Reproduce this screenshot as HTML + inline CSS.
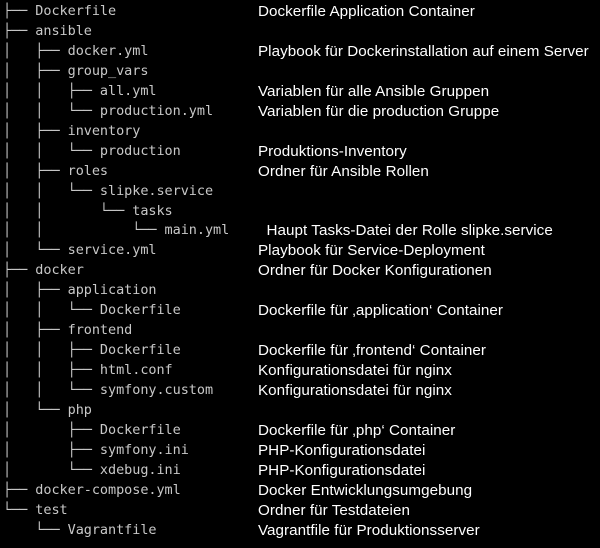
<!DOCTYPE html>
<html><head><meta charset="utf-8"><style>
html,body{margin:0;padding:0;background:#000;width:600px;height:548px;overflow:hidden}
.l{position:absolute;left:3px;top:2px;font-family:"DejaVu Sans Mono","Liberation Mono",monospace;font-size:13.5px;line-height:19.95px;color:#c8c8c8;white-space:pre;margin:0;letter-spacing:-0.05px}
.r{position:absolute;left:258px;top:2px;font-family:"Liberation Sans",sans-serif;font-size:15.2px;line-height:19.95px;color:#fff;white-space:pre;margin:0;letter-spacing:0.05px}
</style></head><body>
<pre class="l">├── Dockerfile
├── ansible
│   ├── docker.yml
│   ├── group_vars
│   │   ├── all.yml
│   │   └── production.yml
│   ├── inventory
│   │   └── production
│   ├── roles
│   │   └── slipke.service
│   │       └── tasks
│   │           └── main.yml
│   └── service.yml
├── docker
│   ├── application
│   │   └── Dockerfile
│   ├── frontend
│   │   ├── Dockerfile
│   │   ├── html.conf
│   │   └── symfony.custom
│   └── php
│       ├── Dockerfile
│       ├── symfony.ini
│       └── xdebug.ini
├── docker-compose.yml
└── test
    └── Vagrantfile</pre>
<pre class="r">Dockerfile Application Container

Playbook für Dockerinstallation auf einem Server

Variablen für alle Ansible Gruppen
Variablen für die production Gruppe

Produktions-Inventory
Ordner für Ansible Rollen


  Haupt Tasks-Datei der Rolle slipke.service
Playbook für Service-Deployment
Ordner für Docker Konfigurationen

Dockerfile für ‚application‘ Container

Dockerfile für ‚frontend‘ Container
Konfigurationsdatei für nginx
Konfigurationsdatei für nginx

Dockerfile für ‚php‘ Container
PHP-Konfigurationsdatei
PHP-Konfigurationsdatei
Docker Entwicklungsumgebung
Ordner für Testdateien
Vagrantfile für Produktionsserver</pre>
</body></html>
